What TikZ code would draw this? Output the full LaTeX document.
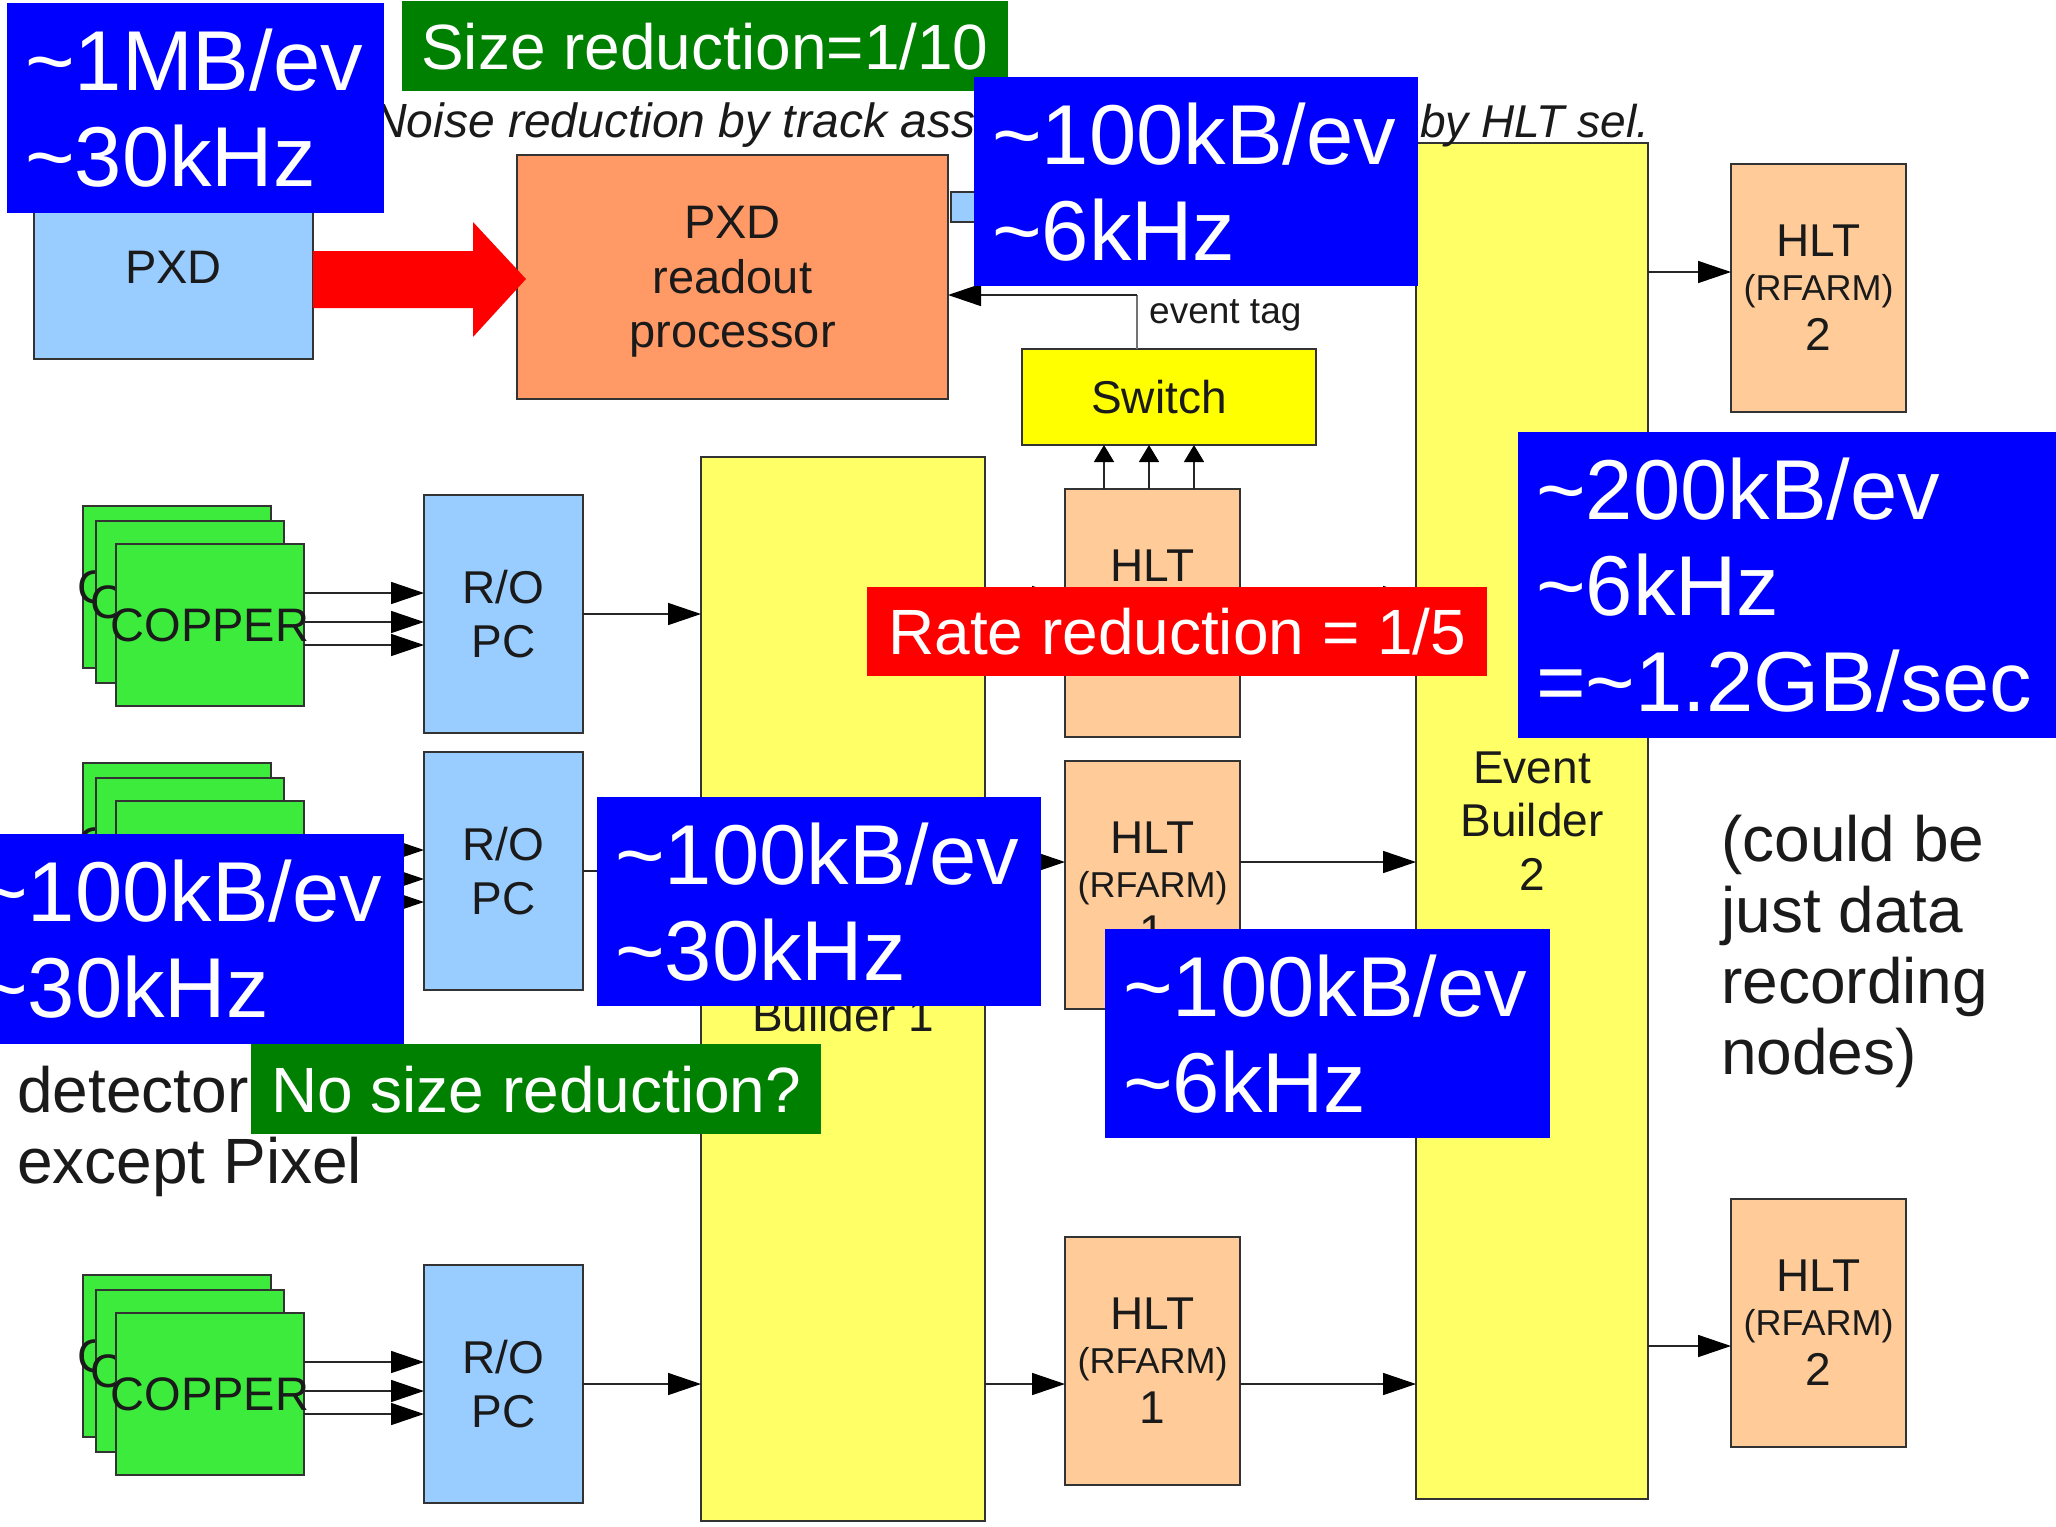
\documentclass[tikz,border=0pt]{standalone}
\usepackage{fontspec}
\setmainfont{Liberation Sans}
\usetikzlibrary{arrows.meta,calc}
\newcommand\fsz[2]{\fontsize{#1}{#2}\selectfont}
\definecolor{pxdblue}{HTML}{99CCFF}
\definecolor{procc}{HTML}{FF9966}
\definecolor{hltc}{HTML}{FFCC99}
\definecolor{ebc}{HTML}{FFFF66}
\definecolor{swc}{HTML}{FFFF00}
\definecolor{copc}{HTML}{3DEB3D}
\definecolor{lblue}{HTML}{0000FF}
\definecolor{lgreen}{HTML}{008000}
\definecolor{lred}{HTML}{FF0000}
\definecolor{txt}{HTML}{1A1A1A}
\begin{document}
\begin{tikzpicture}[x=1pt,y=-1pt,
  blk/.style={draw=black!80, line width=1.5pt, inner sep=0pt, outer sep=0pt, anchor=north west, text=txt},
  cop/.style={blk, fill=copc, minimum width=188pt, minimum height=162pt, font=\fsz{47}{54}},
  robox/.style={blk, fill=pxdblue, minimum width=159pt, minimum height=238pt, font=\fsz{46}{54}, align=center},
  hlt/.style={blk, fill=hltc, minimum width=175pt, minimum height=248pt, font=\fsz{46}{44}, align=center},
  arr/.style={draw=black!85, line width=1.6pt, -{Triangle[length=33pt,width=22pt,color=black]}},
  uparr/.style={draw=black!85, line width=1.6pt, -{Triangle[length=17pt,width=20pt,color=black]}},
  bluelab/.style={fill=lblue, text=white, anchor=north west, inner ysep=0pt, inner xsep=18pt, align=left, font=\fsz{85}{96}},
  flatlab/.style={text=white, anchor=north west, inner ysep=0pt, inner xsep=20pt, minimum height=90pt, font=\fsz{64}{72}},
  plain/.style={text=txt, inner sep=0pt}
]
\useasboundingbox (0,0) rectangle (2056,1526);
\fill[white] (0,0) rectangle (2056,1526);

% ---------- main blocks ----------
\node[blk, fill=ebc, minimum width=284pt, minimum height=1064pt] (eb1) at (701,457) {};
\node[blk, fill=ebc, minimum width=232pt, minimum height=1356pt, font=\fsz{46}{53.5}, align=center] (eb2) at (1416,143) {Event\\Builder\\2};
\node[plain, anchor=south, font=\fsz{46}{53}, align=center] (eb1t) at (843,1032) {Event\\Builder 1};

\node[blk, fill=pxdblue, minimum width=279pt, minimum height=184pt, font=\fsz{47}{54}] (pxd) at (34,175) {PXD};
\node[blk, fill=procc, minimum width=431pt, minimum height=244pt, font=\fsz{47}{54.5}, align=center, text depth=0pt] (pro) at (517,155) {PXD\\readout\\processor};
\node[blk, fill=pxdblue, minimum width=150pt, minimum height=30pt] (lbr) at (951,192) {};
\node[blk, fill=swc, minimum width=294pt, minimum height=96pt, font=\fsz{46}{54}] (sw) at (1022,349) {Switch\hspace*{20pt}};

\node[hlt] (hlt0) at (1065,489) {HLT\\{\fsz{36}{40}(RFARM)}\\[6pt]1};
\node[hlt] (hlt1) at (1065,761) {HLT\\{\fsz{36}{40}(RFARM)}\\[6pt]1};
\node[hlt] (hlt2) at (1065,1237) {HLT\\{\fsz{36}{40}(RFARM)}\\[6pt]1};
\node[hlt] (hltr1) at (1731,164) {HLT\\{\fsz{36}{40}(RFARM)}\\[6pt]2};
\node[hlt] (hltr2) at (1731,1199) {HLT\\{\fsz{36}{40}(RFARM)}\\[6pt]2};

\foreach \r/\yy in {1/495,2/752,3/1265}
  \node[robox] (ro\r) at (424,\yy) {R/O\\PC};

\foreach \r/\yy in {1/506,2/763,3/1275}{
  \node[cop] (cb\r) at (83,\yy) {\makebox[0pt]{COPPER}};
  \node[cop] (cm\r) at (96,\yy+15) {\makebox[0pt]{COPPER}};
  \node[cop] (cf\r) at (116,\yy+38) {\makebox[0pt]{COPPER}};
}

% ---------- connectors ----------
\fill[lred] (313,251) -- (473,251) -- (473,222) -- (526,279) -- (473,337) -- (473,308) -- (313,308) -- cycle;

\foreach \r in {1,2,3}{
  \foreach \d in {32pt,3pt,-20pt}
    \draw[arr] ([yshift=\d]cf\r.east) -- ([yshift=\d]cf\r.east -| ro\r.west);
  \draw[arr] (ro\r.east) -- (ro\r.east -| eb1.west);
}

\coordinate (h0y) at (0,597);
\coordinate (h1y) at (0,862);
\coordinate (h2y) at (0,1384);
\coordinate (r1y) at (0,272);
\coordinate (r2y) at (0,1346);
\draw[arr] (eb1.east |- h0y) -- (hlt0.west |- h0y);
\draw[arr] (hlt0.east |- h0y) -- (eb2.west |- h0y);
\draw[arr] (eb1.east |- h1y) -- (hlt1.west |- h1y);
\draw[arr] (hlt1.east |- h1y) -- (eb2.west |- h1y);
\draw[arr] (eb1.east |- h2y) -- (hlt2.west |- h2y);
\draw[arr] (hlt2.east |- h2y) -- (eb2.west |- h2y);
\draw[arr] (eb2.east |- r1y) -- (hltr1.west |- r1y);
\draw[arr] (eb2.east |- r2y) -- (hltr2.west |- r2y);

\foreach \dx in {-48.5pt,-3.5pt,41.5pt}
  \draw[uparr] ([xshift=\dx]hlt0.north) -- ([xshift=\dx]hlt0.north |- sw.south);

\coordinate (tagc) at (1137,295);
\draw[draw=black!55, line width=1.4pt] (tagc |- sw.north) -- (tagc);
\draw[arr] (tagc) -- (tagc -| pro.east);
\draw[arr] (lbr.east) -- (lbr.east -| eb2.west);

% ---------- free texts ----------
\node[plain, anchor=base west, font=\fsz{48}{54}\itshape] (noise) at (372,137) {Noise reduction by track ass};
\node[plain, anchor=base west, font=\fsz{46}{54}\itshape] (hltsel) at (1420,137) {by HLT sel.};
\node[plain, anchor=base west, font=\fsz{37}{42}] (etag) at (1149,323) {event tag};
\node[plain, anchor=north west, font=\fsz{64}{71}, align=left] (det) at (17,1066) {detector\\except Pixel};
\node[plain, anchor=north west, font=\fsz{64}{71}, align=left] (rec) at (1721,815) {(could be\\just data\\recording\\nodes)};

% ---------- highlight labels ----------
\node[bluelab, text width=341pt, minimum height=210pt] (la) at (7,3) {\textasciitilde 1MB/ev\\\textasciitilde 30kHz};
\node[flatlab, fill=lgreen, inner xsep=19pt] (lg1) at (402,1) {Size reduction=1/10};
\node[bluelab, text width=408pt, minimum height=209pt] (lb) at (974,77) {\textasciitilde 100kB/ev\\\textasciitilde 6kHz};
\node[flatlab, fill=lred, inner xsep=21pt, minimum height=89pt] (lr) at (867,587) {Rate reduction = 1/5};
\node[bluelab, text width=524pt, minimum height=306pt] (lf) at (1518,432) {\textasciitilde 200kB/ev\\\textasciitilde 6kHz\\=\textasciitilde 1.2GB/sec};
\node[bluelab, text width=408pt, minimum height=209pt] (lc) at (597,797) {\textasciitilde 100kB/ev\\\textasciitilde 30kHz};
\node[bluelab, text width=408pt, minimum height=210pt] (ld) at (-40,834) {\textasciitilde 100kB/ev\\\textasciitilde 30kHz};
\node[bluelab, text width=409pt, minimum height=209pt] (le) at (1105,929) {\textasciitilde 100kB/ev\\\textasciitilde 6kHz};
\node[flatlab, fill=lgreen] (lg2) at (251,1044) {No size reduction?};
\end{tikzpicture}
\end{document}
